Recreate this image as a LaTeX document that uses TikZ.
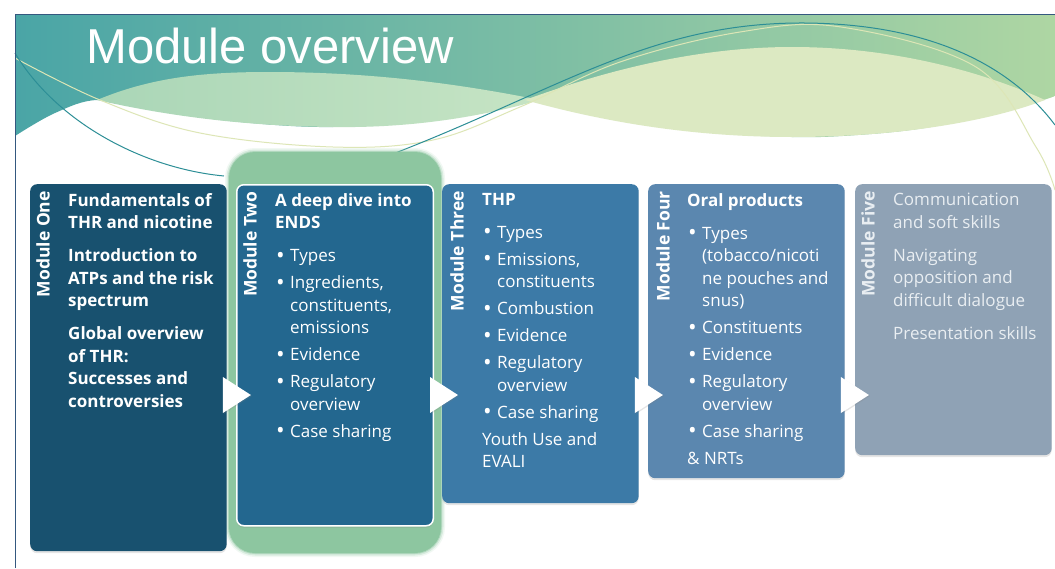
\documentclass[tikz,border=0pt]{standalone}
\usepackage{fontspec}
\setmainfont{Open Sans}
\newfontfamily\titlefont{Liberation Sans}
\usetikzlibrary{positioning,shadows}

\definecolor{modone}{HTML}{18516F}
\definecolor{modtwo}{HTML}{23678F}
\definecolor{modthree}{HTML}{3C7AA7}
\definecolor{modfour}{HTML}{5B87AF}
\definecolor{modfive}{HTML}{8FA2B5}
\definecolor{fivetext}{HTML}{E9EEF2}
\definecolor{glowgreen}{HTML}{8DC6A0}
\definecolor{frameblue}{HTML}{34587F}
\definecolor{waveteal}{HTML}{4AA5A6}
\definecolor{wavemid}{HTML}{84C3A2}
\definecolor{wavelight}{HTML}{AED6A3}
\definecolor{lensmint}{HTML}{AAD6B7}
\definecolor{lensmintr}{HTML}{C6E4C4}
\definecolor{lensyellow}{HTML}{DCE9C2}
\definecolor{lineteal}{HTML}{2C8E96}
\definecolor{linepale}{HTML}{DDE6B6}

% bullet item and continuation line
\newcommand{\bul}[1]{\makebox[15pt][l]{\hspace{1pt}\raisebox{-1.4pt}{\scalebox{1.35}{\textbullet}}}#1}
\newcommand{\cont}{\hspace*{15pt}}

\tikzset{
  module/.style={rounded corners=7pt, minimum width=196.5pt, anchor=north west,
    inner sep=0pt, drop shadow={shadow xshift=0pt, shadow yshift=-2pt, opacity=.2}},
  modlabel/.style={rotate=90, anchor=east, inner sep=0pt, text=white,
    font=\bfseries\fontsize{17.5}{17.5}\selectfont},
  modtext/.style={anchor=north west, align=left, inner sep=0pt, text=white,
    font=\fontsize{17}{22.5}\selectfont},
  chevron/.style={fill=white, drop shadow={shadow xshift=1pt, shadow yshift=-1pt, opacity=.2}},
}

\begin{document}
\begin{tikzpicture}[x=1pt, y=-1pt]
\useasboundingbox (0,0) rectangle (1055,568);
\fill[white] (0,0) rectangle (1055,568);

% wave band along the top
\shade[left color=waveteal, middle color=wavemid, right color=wavelight]
  (15,14) -- (1055,14) -- plot[smooth, tension=.6] coordinates {(1055,96) (1040,101) (992,114)
  (925,128) (858,135) (792,137) (700,131) (600,115) (525,101) (440,118) (333,127) (230,121)
  (150,109) (97,100) (55,113) (15,136)} -- cycle;
\shade[left color=lensmint, right color=lensmintr]
  (97,100) .. controls (150,78) and (200,72) .. (269,72)
  .. controls (380,72) and (470,86) .. (540,100)
  .. controls (470,120) and (400,128) .. (333,127)
  .. controls (230,126) and (150,112) .. (97,100);
\fill[lensyellow]
  (525,100) .. controls (580,80) and (680,47) .. (792,47)
  .. controls (900,47) and (990,75) .. (1045,100)
  .. controls (990,121) and (900,137) .. (792,137)
  .. controls (680,137) and (590,118) .. (525,100);

% thin swoosh lines
\draw[linepale, line width=1pt] plot[smooth, tension=.6] coordinates {(15,58) (100,100) (200,133)
  (333,147) (433,140) (520,107) (620,62) (740,32) (841,27) (976,67) (1036,147) (1055,190)};
\draw[lineteal, line width=1pt] (15,53) .. controls (55,120) and (140,168) .. (224,176);
\draw[lineteal, line width=1pt] (385,157) .. controls (560,90) and (650,22) .. (805,23)
  .. controls (930,24) and (1010,65) .. (1055,125);

% slide frame
\draw[frameblue, line width=1pt] (15,568) -- (15,14) -- (1055,14);

\node[anchor=base west, inner sep=0pt, text=white, font=\titlefont\fontsize{49}{49}\selectfont]
  (title) at (86,63) {Module overview};

% highlight behind module two
\foreach \w/\o in {8/.12,5/.25,2/.5}
  \draw[glowgreen, line width=\w pt, opacity=\o, rounded corners=26pt] (229,152) rectangle (441,553);
\fill[glowgreen, rounded corners=26pt] (229,152) rectangle (441,553);

% module boxes
\node[module, fill=modone, minimum height=367pt] (one) at (30,184) {};
\node[module, fill=modtwo, minimum height=341pt, draw=white, line width=1.5pt] (two) at (236,184) {};
\node[module, fill=modthree, minimum height=319pt] (three) at (442,184) {};
\node[module, fill=modfour, minimum height=294pt] (four) at (648,184) {};
\node[module, fill=modfive, minimum height=271pt] (five) at (855,184) {};

% arrows between modules
\foreach \m in {one,two,three,four}
  \path[chevron] ([shift={(-4,193)}]\m.north east) -- ++(28,18) -- ++(-28,18) -- cycle;

% vertical module names
\node[modlabel] (onelab) at ([shift={(13,7)}]one.north west) {Module One};
\node[modlabel] (twolab) at ([shift={(14,7)}]two.north west) {Module Two};
\node[modlabel] (threelab) at ([shift={(15,7)}]three.north west) {Module Three};
\node[modlabel] (fourlab) at ([shift={(15,7)}]four.north west) {Module Four};
\node[modlabel, text=fivetext] (fivelab) at ([shift={(13,7)}]five.north west) {Module Five};

% module contents
\node[modtext, font=\bfseries\fontsize{17}{22.5}\selectfont] (onetxt) at ([shift={(38,9)}]one.north west)
  {Fundamentals of\\THR and nicotine\\[10.5pt]Introduction to\\ATPs and the risk\\spectrum\\[10.5pt]%
   Global overview\\of THR:\\Successes and\\controversies};
\node[modtext] (twotxt) at ([shift={(39,9)}]two.north west)
  {\textbf{A deep dive into}\\\textbf{ENDS}\\[10.5pt]\bul{Types}\\[4.5pt]\bul{Ingredients,}\\
   \cont constituents,\\\cont emissions\\[4.5pt]\bul{Evidence}\\[4.5pt]\bul{Regulatory}\\
   \cont overview\\[4.5pt]\bul{Case sharing}};
\node[modtext] (threetxt) at ([shift={(40,9)}]three.north west)
  {\textbf{THP}\\[10.5pt]\bul{Types}\\[4.5pt]\bul{Emissions,}\\\cont constituents\\[4.5pt]%
   \bul{Combustion}\\[4.5pt]\bul{Evidence}\\[4.5pt]\bul{Regulatory}\\\cont overview\\[4.5pt]%
   \bul{Case sharing}\\[4.5pt]Youth Use and\\EVALI};
\node[modtext] (fourtxt) at ([shift={(39,9)}]four.north west)
  {\textbf{Oral products}\\[10.5pt]\bul{Types}\\\cont (tobacco/nicoti\\\cont ne pouches and\\
   \cont snus)\\[4.5pt]\bul{Constituents}\\[4.5pt]\bul{Evidence}\\[4.5pt]\bul{Regulatory}\\
   \cont overview\\[4.5pt]\bul{Case sharing}\\[4.5pt]\& NRTs};
\node[modtext, text=fivetext] (fivetxt) at ([shift={(38,9)}]five.north west)
  {Communication\\and soft skills\\[10.5pt]Navigating\\opposition and\\difficult dialogue\\[10.5pt]%
   Presentation skills};
\end{tikzpicture}
\end{document}
